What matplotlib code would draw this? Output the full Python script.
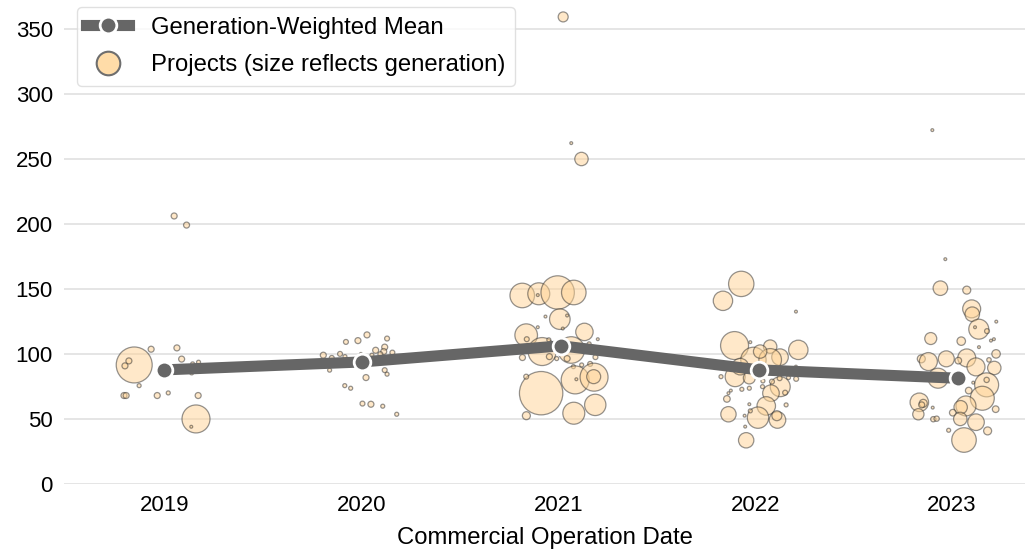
import numpy as np
import matplotlib.pyplot as plt
from matplotlib.lines import Line2D

plt.rcParams['font.family'] = ['Liberation Sans', 'DejaVu Sans']

years = [2019, 2020, 2021, 2022, 2023]

# generation-weighted mean per year (x slightly off the tick, as in the source)
mean_x = [2018.995, 2020.0, 2021.014, 2022.02, 2023.029]
mean_y = [87.7, 93.8, 106.2, 87.7, 81.3]

# projects: jitter offset from year, value, generation
off_2019 = [0.047, 0.110, -0.156, -0.183, -0.203, -0.070, 0.061, 0.085, -0.131, -0.208,
            -0.197, -0.039, 0.017, 0.169, 0.141, 0.171, 0.136, 0.158, 0.134]
val_2019 = [206, 199, 91.5, 94.6, 90.8, 103.6, 104.6, 96, 75.6, 68,
            68, 68, 70, 68, 92.3, 93.6, 85.4, 50, 44]
gen_2019 = [9, 9, 324, 9, 9, 9, 9, 9, 4, 9,
            9, 9, 4, 9, 4, 4, 4, 196, 2]

off_2020 = [0.027, -0.019, -0.080, 0.129, -0.195, -0.152, -0.110, -0.085, 0.071, 0.117,
            0.112, 0.095, 0.156, 0.052, -0.004, -0.163, 0.022, 0.117, 0.129, -0.086,
            -0.056, 0.004, 0.047, 0.107, 0.178]
val_2020 = [114.6, 110.2, 109.2, 111.8, 99, 96.9, 100, 97.9, 102.8, 105.2,
            101.8, 99.8, 101, 99, 100, 87.5, 81.8, 87.5, 84.4, 75.6,
            73.6, 61.8, 61.3, 59.8, 53.6]
gen_2020 = [9, 9, 6, 6, 9, 6, 6, 4, 9, 9,
            9, 6, 6, 4, 2, 4, 9, 6, 4, 4,
            4, 6, 9, 4, 4]

off_2021 = [-0.184, -0.100, -0.004, 0.078, -0.105, 0.007, 0.044, -0.066, 0.022, -0.164,
            -0.161, -0.105, 0.132, 0.200, -0.083, -0.049, -0.046, 0.065, 0.044, -0.009,
            -0.183, 0.188, 0.156, 0.137, 0.076, 0.118, 0.161, -0.088, -0.164, 0.085,
            0.181, 0.179, 0.091, 0.078, 0.187, -0.163, 0.024, 0.117, 0.065]
val_2021 = [144.9, 146.2, 147.2, 147.2, 145.2, 126.7, 129.5, 128.7, 119.5, 114.4,
            111.3, 120.5, 116.9, 111.3, 101.8, 110.8, 97.9, 103, 96.4, 96.4,
            97.2, 97.5, 107.7, 103, 90.2, 91.5, 92.3, 69.8, 82.5, 80,
            82.1, 82.5, 80.5, 54.4, 60.8, 52.5, 359, 249.8, 262]
gen_2021 = [151, 121, 279, 151, 2, 106, 2, 2, 2, 128,
            6, 2, 76, 2, 196, 4, 9, 177, 9, 4,
            9, 6, 4, 4, 4, 4, 6, 471, 6, 196,
            196, 49, 2, 121, 114, 16, 25, 45, 2]

off_2022 = [-0.071, -0.164, 0.207, -0.105, 0.219, 0.076, 0.126, -0.009, 0.076, 0.025,
            -0.102, -0.076, -0.030, 0.127, 0.080, 0.056, 0.014, 0.113, 0.110, -0.136,
            -0.144, -0.046, -0.174, -0.025, -0.136, -0.124, -0.068, -0.030, 0.039, 0.037,
            0.085, 0.124, 0.169, 0.208, 0.152, 0.157, -0.030, -0.025, -0.054, -0.051,
            0.207]
val_2022 = [153.8, 140.8, 132.5, 106.4, 103.1, 105.6, 97.5, 95.4, 95.4, 101.8,
            82.5, 90.2, 81.5, 74.8, 69.8, 60, 51, 49.2, 52.5, 53.6,
            65.4, 33.6, 82.5, 109, 69.8, 71.8, 72.8, 73.6, 79.2, 74.8,
            78.7, 81.3, 81.8, 80.8, 70.2, 60.8, 61.3, 56.2, 52.5, 44.1,
            90.2]
gen_2022 = [161, 94, 2, 196, 94, 45, 69, 161, 128, 45,
            100, 69, 36, 100, 69, 86, 114, 69, 25, 59,
            11, 59, 4, 2, 2, 2, 4, 4, 4, 4,
            6, 6, 4, 6, 6, 4, 2, 4, 2, 2,
            2]

off_2023 = [-0.100, -0.034, -0.059, 0.075, 0.100, 0.103, 0.136, 0.225, 0.117, 0.178,
            0.198, 0.213, -0.108, 0.047, 0.137, -0.156, -0.120, -0.029, 0.075, 0.032,
            0.122, 0.188, 0.224, 0.215, -0.071, -0.039, 0.108, 0.176, 0.085, 0.154,
            0.176, -0.166, -0.146, -0.154, -0.098, -0.171, 0.071, 0.044, 0.222, 0.004,
            0.042, 0.122, -0.095, -0.078, 0.181, -0.017, 0.061]
val_2023 = [272, 172.8, 150.5, 149, 134.6, 130.5, 119, 124.8, 120.5, 117.5,
            110.2, 111.3, 111.8, 109.8, 105.2, 96.2, 94.1, 96.2, 96.9, 94.8,
            90, 95.4, 100, 89.2, 81.3, 80, 77.9, 76.2, 71.8, 65.9,
            80, 62.8, 62, 60.8, 58.7, 53.6, 60, 59, 57.5, 54.8,
            50, 47.5, 49.8, 50.2, 40.8, 41.3, 33.8]
gen_2023 = [2, 2, 53, 16, 81, 53, 100, 2, 2, 6,
            2, 2, 36, 18, 2, 16, 81, 64, 81, 11,
            81, 5, 18, 45, 100, 2, 2, 144, 11, 144,
            7, 86, 16, 9, 2, 32, 100, 45, 11, 11,
            45, 69, 7, 7, 16, 4, 151]

offsets = [off_2019, off_2020, off_2021, off_2022, off_2023]
values = [val_2019, val_2020, val_2021, val_2022, val_2023]
generation = [gen_2019, gen_2020, gen_2021, gen_2022, gen_2023]

fig = plt.figure(figsize=(10.25, 5.49), dpi=100)
ax = fig.add_axes([0.0624, 0.1184, 0.9376, 0.8816])

bubble_face = '#FFD394'
for yr, off, val, gen in zip(years, offsets, values, generation):
    x = yr + np.array(off)
    ax.scatter(x, val, s=np.array(gen) * 2.07, facecolor=bubble_face,
               edgecolor='#2b2b2b', linewidth=0.9, alpha=0.5, zorder=2)

ax.plot(mean_x, mean_y, color='#666666', linewidth=8, marker='o',
        markersize=12, markeredgecolor='white', markeredgewidth=2, zorder=3)

ax.set_xlim(2018.487, 2023.371)
ax.set_ylim(0, 372)
ax.set_xticks(years)
ax.set_yticks(range(0, 351, 50))
ax.tick_params(labelsize=16, length=0, pad=8)
ax.yaxis.grid(True, color='#e0e0e0', linewidth=1.2)
ax.set_axisbelow(True)
for sp in ax.spines.values():
    sp.set_visible(False)
ax.set_xlabel('Commercial Operation Date', fontsize=17.2, labelpad=8)

handles = [
    Line2D([0], [0], color='#666666', linewidth=8, marker='o', markersize=12,
           markeredgecolor='white', markeredgewidth=2),
    Line2D([0], [0], linestyle='none', marker='o', markersize=17,
           markerfacecolor='#FFDCA8', markeredgecolor='#6e6e6e', markeredgewidth=1.5),
]
ax.legend(handles, ['Generation-Weighted Mean', 'Projects (size reflects generation)'],
          loc='upper left', bbox_to_anchor=(0.0135, 0.9855), borderaxespad=0,
          fontsize=17.2, frameon=True, edgecolor='#d9d9d9', handlelength=1.8,
          handletextpad=0.9, labelspacing=0.65)

fig.savefig('out.png', dpi=100)
